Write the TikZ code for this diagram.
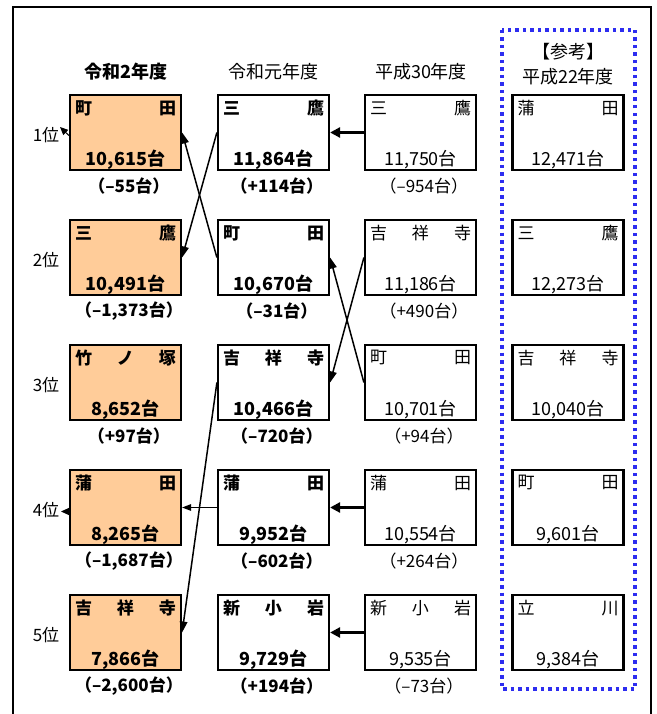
\documentclass[tikz,border=0pt]{standalone}
\usepackage{fontspec}
\setmainfont{Noto Sans CJK JP}
\usetikzlibrary{arrows.meta}
\definecolor{orng}{RGB}{255,204,153}
\definecolor{dotblue}{RGB}{45,45,240}
\newcommand\namefnt{\fontsize{17pt}{18pt}\selectfont}
\newcommand\numfnt{\fontsize{18pt}{19pt}\selectfont}
\newcommand\difffnt{\fontsize{17pt}{18pt}\selectfont}
\newcommand\hdrfnt{\fontsize{18pt}{19pt}\selectfont}
\newcommand\pl{\hspace{0.4em}（}
\newcommand\pr{）\hspace{0.4em}}
\newcommand\cellbox[8]{%
  \node[cell,fill=#4] (#1) at (#2,#3) {};
  \node[txt,font={#5\namefnt}] (#1n) at ([yshift=-14pt]#1.north) {\hbox to 101pt{#6}};
  \node[txt,font={#5\numfnt}] (#1v) at ([yshift=11pt]#1.south) {#7};
  \if\relax\detokenize{#8}\relax\else
  \node[txt,font={#5\difffnt}] (#1d) at ([yshift=-15pt]#1.south) {#8};
  \fi
}
\begin{document}
\begin{tikzpicture}[x=1pt,y=-1pt,
  cell/.style={draw=black,line width=2.2pt,minimum width=111pt,minimum height=75pt,inner sep=0pt},
  txt/.style={inner sep=0pt},
  rank/.style={inner sep=0pt,font=\namefnt},
  hdr/.style={inner sep=0pt,font=\hdrfnt},
  thinarr/.style={line width=1.5pt,-{Triangle[length=11pt,width=7.5pt]}},
  smallarr/.style={line width=1.3pt,-{Triangle[length=9pt,width=6.5pt]}},
  thickarr/.style={line width=3pt,-{Triangle[length=10pt,width=10pt]}},
  stub/.style={line width=1pt,-{Triangle[length=8pt,width=7pt]}}]
\useasboundingbox (0,0) rectangle (656,714);
% outer frame
\draw[line width=1.3pt] (13,714) -- (13,7) -- (651,7) -- (651,714);
% reference dotted box
\draw[dotblue,line width=3.5pt,dash pattern=on 3.5pt off 4pt] (502,30) rectangle (635,689);
% headers
\node[hdr,font=\hdrfnt\bfseries] (h1) at (126,72) {令和2年度};
\node[hdr] (h2) at (273,72) {令和元年度};
\node[hdr] (h3) at (421,72) {平成30年度};
\node[hdr] (h4a) at (568,52) {【参考】};
\node[hdr] (h4b) at (568,77) {平成22年度};
% column 1
\cellbox{a1}{125.5}{132.5}{orng}{\bfseries}{町\hfil 田}{10,615台}{\pl–55台\pr}
\cellbox{a2}{125.5}{257.5}{orng}{\bfseries}{三\hfil 鷹}{10,491台}{\pl–1,373台\pr}
\cellbox{a3}{125.5}{382.5}{orng}{\bfseries}{竹\hfil ノ\hfil 塚}{8,652台}{\pl+97台\pr}
\cellbox{a4}{125.5}{507.5}{orng}{\bfseries}{蒲\hfil 田}{8,265台}{\pl–1,687台\pr}
\cellbox{a5}{125.5}{632.5}{orng}{\bfseries}{吉\hfil 祥\hfil 寺}{7,866台}{\pl–2,600台\pr}
% column 2
\cellbox{b1}{273.5}{132.5}{white}{\bfseries}{三\hfil 鷹}{11,864台}{\pl+114台\pr}
\cellbox{b2}{273.5}{257.5}{white}{\bfseries}{町\hfil 田}{10,670台}{\pl–31台\pr}
\cellbox{b3}{273.5}{382.5}{white}{\bfseries}{吉\hfil 祥\hfil 寺}{10,466台}{\pl–720台\pr}
\cellbox{b4}{273.5}{507.5}{white}{\bfseries}{蒲\hfil 田}{9,952台}{\pl–602台\pr}
\cellbox{b5}{273.5}{632.5}{white}{\bfseries}{新\hfil 小\hfil 岩}{9,729台}{\pl+194台\pr}
% column 3
\cellbox{c1}{420.5}{132.5}{white}{\mdseries}{三\hfil 鷹}{11,750台}{\pl–954台\pr}
\cellbox{c2}{420.5}{257.5}{white}{\mdseries}{吉\hfil 祥\hfil 寺}{11,186台}{\pl+490台\pr}
\cellbox{c3}{420.5}{382.5}{white}{\mdseries}{町\hfil 田}{10,701台}{\pl+94台\pr}
\cellbox{c4}{420.5}{507.5}{white}{\mdseries}{蒲\hfil 田}{10,554台}{\pl+264台\pr}
\cellbox{c5}{420.5}{632.5}{white}{\mdseries}{新\hfil 小\hfil 岩}{9,535台}{\pl–73台\pr}
% column 4
\cellbox{d1}{568}{132.5}{white}{\mdseries}{蒲\hfil 田}{12,471台}{}
\cellbox{d2}{568}{257.5}{white}{\mdseries}{三\hfil 鷹}{12,273台}{}
\cellbox{d3}{568}{382.5}{white}{\mdseries}{吉\hfil 祥\hfil 寺}{10,040台}{}
\cellbox{d4}{568}{507.5}{white}{\mdseries}{町\hfil 田}{9,601台}{}
\cellbox{d5}{568}{632.5}{white}{\mdseries}{立\hfil 川}{9,384台}{}
% ranks
\node[rank] (r1) at (46,135) {1位};
\node[rank] (r2) at (46,260) {2位};
\node[rank] (r3) at (46,385) {3位};
\node[rank] (r4) at (46,510) {4位};
\node[rank] (r5) at (46,635) {5位};
\coordinate (t1) at (60,127);
\coordinate (t4) at (61,511.5);
\draw[stub] ([yshift=-3pt]a1.west) -- (t1);
\draw[stub] ([yshift=-4pt]a4.west) -- (t4);
% arrows
\draw[thickarr] (c1.west) -- (b1.east);
\draw[thinarr] (b1.west) -- (a2.east);
\draw[thinarr] (b2.west) -- (a1.east);
\draw[thinarr] (c2.west) -- (b3.east);
\draw[thinarr] (c3.west) -- (b2.east);
\draw[thinarr] (b3.west) -- (a5.east);
\draw[smallarr] (b4.west) -- (a4.east);
\draw[thickarr] (c4.west) -- (b4.east);
\draw[thickarr] (c5.west) -- (b5.east);
\end{tikzpicture}
\end{document}
